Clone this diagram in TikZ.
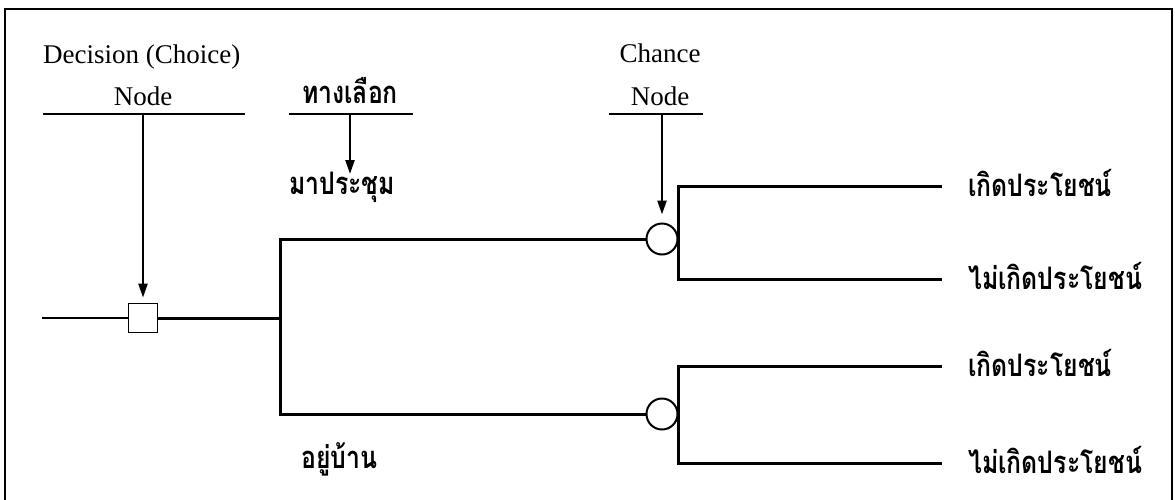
\documentclass[tikz,border=0pt]{standalone}
\usepackage{fontspec}
\setmainfont{Liberation Serif}
\newfontfamily\thaifont[Script=Thai,FakeStretch=0.8]{Loma}
\usetikzlibrary{arrows.meta}
\begin{document}
\begin{tikzpicture}[x=1pt,y=-1pt,
  frame/.style={line width=2.4pt},
  branch/.style={line width=3pt,line join=miter},
  rule/.style={line width=2.6pt},
  feed/.style={line width=2pt},
  pointer/.style={line width=2.4pt,-{Triangle[length=14pt,width=9pt]}},
  latin/.style={font=\fontsize{27}{30}\selectfont,inner sep=0pt},
  thai/.style={font=\thaifont\bfseries\fontsize{31}{35}\selectfont,inner sep=0pt},
  decbox/.style={draw,line width=1.8pt,minimum size=29pt,inner sep=0pt,fill=white},
  chancebox/.style={draw,circle,line width=2pt,minimum size=31pt,inner sep=0pt,fill=white},
]
\useasboundingbox (0,0) rectangle (1175,499);
% outer frame (its lower edge lies below the page)
\draw[frame] (5,9) rectangle (1172,505);

% decision and chance nodes
\node[decbox] (dec) at (143,318) {};
\node[chancebox] (c1) at (662,239) {};
\node[chancebox] (c2) at (662,414) {};

% headings
\node[latin,anchor=base west] (dtitle) at (43,63) {Decision (Choice)};
\node[latin,anchor=base] (dnode) at (143,105) {Node};
\node[latin,anchor=base] (ctitle) at (660,62) {Chance};
\node[latin,anchor=base] (cnode) at (660,105) {Node};
\node[thai,anchor=base] (alt) at (350,103) {ทางเลือก};

% rules under the headings
\coordinate (dr1) at (43,114);  \coordinate (dr2) at (245,114);
\coordinate (ar1) at (289,114); \coordinate (ar2) at (413,114);
\coordinate (cr1) at (609,114); \coordinate (cr2) at (703,114);
\draw[rule] (dr1) -- (dr2);
\draw[rule] (ar1) -- (ar2);
\draw[rule] (cr1) -- (cr2);

% pointers from the headings
\coordinate (dtop) at (143,114);
\coordinate (atop) at (350,114);
\coordinate (atip) at (350,174);
\coordinate (ctop) at (662,114);
\draw[pointer,shorten >=5pt] (dtop) -- (dec.north);
\draw[pointer] (atop) -- (atip);
\draw[pointer,shorten >=8pt] (ctop) -- (c1.north);

% first-level branches
\coordinate (start) at (42,318);
\coordinate (fork) at (280,318);
\draw[feed] (start) -- (dec.west);
\draw[branch] (dec.east) -- (fork);
\draw[branch] (c1.west) -- (c1.west -| fork) -- (c2.west -| fork) -- (c2.west);
\node[thai,anchor=base west] (go) at (289,194) {มาประชุม};
\node[thai,anchor=base west] (stay) at (301,468) {อยู่บ้าน};

% outcome branches
\coordinate (e1) at (942,186);
\coordinate (e2) at (942,279);
\coordinate (e3) at (942,366);
\coordinate (e4) at (942,463);
\draw[branch] (e1) -- (e1 -| c1.east) -- (e2 -| c1.east) -- (e2);
\draw[branch] (e3) -- (e3 -| c2.east) -- (e4 -| c2.east) -- (e4);
\node[thai,anchor=base west] (o1) at (968,196) {เกิดประโยชน์};
\node[thai,anchor=base west] (o2) at (968,289) {ไม่เกิดประโยชน์};
\node[thai,anchor=base west] (o3) at (968,376) {เกิดประโยชน์};
\node[thai,anchor=base west] (o4) at (968,473) {ไม่เกิดประโยชน์};
\end{tikzpicture}
\end{document}
